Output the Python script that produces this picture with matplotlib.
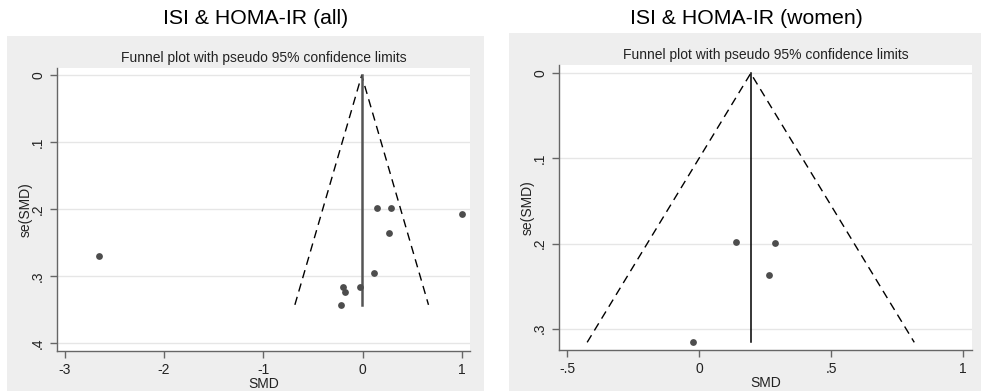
import matplotlib; matplotlib.use("Agg")

import numpy as np
import matplotlib.pyplot as plt

plt.rcParams["font.family"] = ["Liberation Sans", "DejaVu Sans"]

# study-level effects: standardized mean difference and its standard error
smd_all = [-2.654, 0.14, 0.28, 0.995, 0.26, 0.11, -0.03, -0.195, -0.175, -0.215]
se_all = [0.2696, 0.198, 0.1985, 0.2075, 0.236, 0.295, 0.316, 0.317, 0.324, 0.343]
pooled_all = -0.01

smd_women = [0.14, 0.287, 0.263, -0.025]
se_women = [0.198, 0.1993, 0.2365, 0.316]
pooled_women = 0.195

xticks_all = [-3, -2, -1, 0, 1]
xlabels_all = ["-3", "-2", "-1", "0", "1"]
yticks_all = [0, 0.1, 0.2, 0.3, 0.4]
ylabels_all = ["0", ".1", ".2", ".3", ".4"]

xticks_women = [-0.5, 0, 0.5, 1]
xlabels_women = ["-.5", "0", ".5", "1"]
yticks_women = [0, 0.1, 0.2, 0.3]
ylabels_women = ["0", ".1", ".2", ".3"]

W, H = 981, 391
BG = "#eeeeee"
AXC = "#666666"
DOT = "#4d4d4d"


def px_axes(fig, left, top, right, bottom, **kw):
    return fig.add_axes([left / W, 1 - bottom / H, (right - left) / W, (bottom - top) / H], **kw)


def panel_bg(fig, left, top, right, bottom):
    bg = px_axes(fig, left, top, right, bottom, zorder=-10)
    bg.set_facecolor(BG)
    bg.set_xticks([])
    bg.set_yticks([])
    for s in bg.spines.values():
        s.set_visible(False)


def funnel(ax, smd, se, pooled, line_color, line_width):
    se_max = max(se)
    ax.plot([pooled - 1.96 * se_max, pooled, pooled + 1.96 * se_max],
            [se_max, 0, se_max], color="black", lw=1.0, ls=(0, (6, 4)))
    ax.plot([pooled, pooled], [0, se_max], color=line_color, lw=line_width)
    ax.scatter(smd, se, s=24, color=DOT, zorder=3, linewidths=0)


def style(ax, xlim, ylim, xticks, xlabels, yticks, ylabels):
    ax.set_xlim(*xlim)
    ax.set_ylim(*ylim)
    ax.set_xticks(xticks)
    ax.set_xticklabels(xlabels)
    ax.set_yticks(yticks)
    ax.set_yticklabels(ylabels, rotation=90, va="center")
    for s in ["top", "right"]:
        ax.spines[s].set_visible(False)
    for s in ["left", "bottom"]:
        ax.spines[s].set_color(AXC)
        ax.spines[s].set_linewidth(1.0)
    ax.tick_params(colors=AXC, labelcolor="#222222", labelsize=10, length=5, width=1.0)
    ax.yaxis.grid(True, color="#e6e6e6", lw=1.0)
    ax.set_axisbelow(True)
    ax.set_facecolor("white")
    ax.set_xlabel("SMD", fontsize=10, labelpad=0, color="#222222")
    ax.set_ylabel("se(SMD)", fontsize=10, labelpad=-1, color="#222222")
    ax.set_title("Funnel plot with pseudo 95% confidence limits", fontsize=10, pad=4, color="#222222")


fig = plt.figure(figsize=(W / 100, H / 100), dpi=100)
panel_bg(fig, 7, 36, 484, H)
panel_bg(fig, 509, 33, W, H)

ax1 = px_axes(fig, 57, 68, 470, 351)
funnel(ax1, smd_all, se_all, pooled_all, "#555555", 1.8)
style(ax1, (-3.076, 1.08), (0.412, -0.011), xticks_all, xlabels_all, yticks_all, ylabels_all)

ax2 = px_axes(fig, 559, 65, 972, 350)
funnel(ax2, smd_women, se_women, pooled_women, "black", 1.1)
style(ax2, (-0.531, 1.033), (0.325, -0.0098), xticks_women, xlabels_women, yticks_women, ylabels_women)

fig.text(256 / W, 1 - 18 / H, "ISI & HOMA-IR (all)", ha="center", va="center", fontsize=15.3)
fig.text(746 / W, 1 - 18 / H, "ISI & HOMA-IR (women)", ha="center", va="center", fontsize=15.3)

fig.savefig("out.png", dpi=100)
